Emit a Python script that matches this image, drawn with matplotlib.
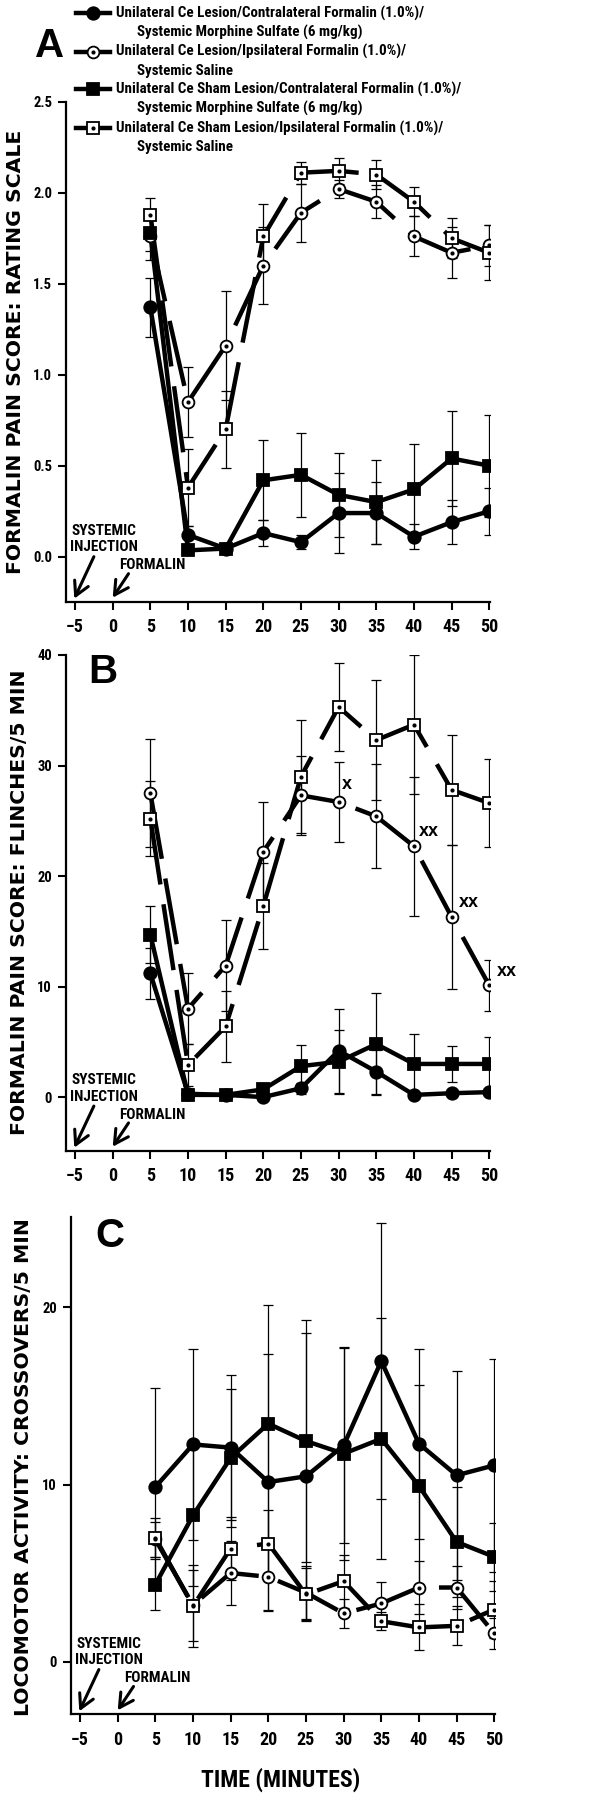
import matplotlib
matplotlib.use("Agg")
import matplotlib.pyplot as plt
from matplotlib import font_manager
from matplotlib.lines import Line2D
from matplotlib.patches import FancyArrowPatch
from matplotlib.ticker import FormatStrFormatter

time = [5, 10, 15, 20, 25, 30, 35, 40, 45, 50]
xticks = [-5, 0, 5, 10, 15, 20, 25, 30, 35, 40, 45, 50]

legend_first = [
    "Unilateral Ce Lesion/Contralateral Formalin (1.0%)/",
    "Unilateral Ce Lesion/Ipsilateral Formalin (1.0%)/",
    "Unilateral Ce Sham Lesion/Contralateral Formalin (1.0%)/",
    "Unilateral Ce Sham Lesion/Ipsilateral Formalin (1.0%)/",
]
legend_second = [
    "Systemic Morphine Sulfate (6 mg/kg)",
    "Systemic Saline",
    "Systemic Morphine Sulfate (6 mg/kg)",
    "Systemic Saline",
]

# panel A: rating scale
a_lesion_contra = [1.37, 0.12, 0.045, 0.13, 0.08, 0.24, 0.24, 0.11, 0.19, 0.25]
a_lesion_contra_err = [0.16, 0.05, 0.02, 0.07, 0.04, 0.22, 0.17, 0.07, 0.12, 0.13]
a_lesion_ipsi = [1.76, 0.85, 1.16, 1.60, 1.89, 2.02, 1.95, 1.76, 1.67, 1.71]
a_lesion_ipsi_err = [0.13, 0.19, 0.30, 0.21, 0.16, 0.05, 0.09, 0.11, 0.14, 0.11]
a_sham_contra = [1.78, 0.035, 0.045, 0.42, 0.45, 0.34, 0.30, 0.37, 0.54, 0.50]
a_sham_contra_err = [0.10, 0.02, 0.02, 0.22, 0.23, 0.23, 0.23, 0.25, 0.26, 0.28]
a_sham_ipsi = [1.88, 0.38, 0.70, 1.76, 2.11, 2.12, 2.10, 1.95, 1.75, 1.67]
a_sham_ipsi_err = [0.09, 0.21, 0.21, 0.18, 0.06, 0.07, 0.08, 0.08, 0.11, 0.15]

# panel B: flinches / 5 min
b_lesion_contra = [11.2, 0.3, 0.2, 0.0, 0.8, 4.2, 2.3, 0.2, 0.35, 0.45]
b_lesion_contra_err = [2.3, 0.3, 0.2, 0.2, 0.5, 3.8, 2.0, 0.2, 0.3, 0.3]
b_lesion_ipsi = [27.5, 8.0, 11.9, 22.2, 27.3, 26.7, 25.4, 22.7, 16.3, 10.1]
b_lesion_ipsi_err = [4.9, 3.2, 4.1, 4.5, 3.6, 3.6, 4.7, 6.3, 6.5, 2.3]
b_sham_contra = [14.7, 0.2, 0.2, 0.7, 2.8, 3.2, 4.8, 3.0, 3.0, 3.0]
b_sham_contra_err = [2.6, 0.2, 0.2, 0.4, 1.9, 2.9, 4.6, 2.7, 1.6, 2.4]
b_sham_ipsi = [25.2, 2.9, 6.4, 17.3, 29.0, 35.3, 32.3, 33.7, 27.8, 26.6]
b_sham_ipsi_err = [3.4, 1.9, 3.2, 3.9, 5.1, 4.0, 5.4, 6.3, 5.0, 4.0]

# panel C: crossovers / 5 min
c_lesion_contra = [9.86, 12.26, 12.08, 10.14, 10.46, 12.2, 16.96, 12.3, 10.52, 11.08]
c_lesion_contra_err = [5.6, 5.4, 4.1, 7.2, 8.1, 5.5, 7.8, 5.35, 5.9, 6.0]
c_lesion_ipsi = [6.9, 3.2, 5.01, 4.79, 3.9, 2.73, 3.29, 4.19, 4.19, 1.6]
c_lesion_ipsi_err = [1.0, 2.0, 1.8, 1.9, 1.5, 0.8, 1.2, 1.5, 1.2, 0.85]
c_sham_contra = [4.36, 8.26, 11.5, 13.43, 12.45, 11.74, 12.58, 9.92, 6.76, 5.92]
c_sham_contra_err = [1.45, 4.0, 3.9, 6.7, 6.8, 6.0, 6.8, 5.7, 3.1, 1.9]
c_sham_ipsi = [6.99, 3.14, 6.39, 6.67, 3.8, 4.55, 2.29, 1.94, 2.03, 2.95]
c_sham_ipsi_err = [1.1, 2.3, 1.8, 1.9, 1.5, 1.5, 0.5, 1.3, 1.1, 1.6]

# pick a condensed bold face, like the Helvetica Condensed of the original
installed = {f.name for f in font_manager.fontManager.ttflist}
narrow_choices = ["Arial Narrow", "Liberation Sans Narrow", "Roboto Condensed",
                  "PT Sans Narrow", "Archivo Narrow", "Fira Sans Condensed",
                  "IBM Plex Sans Condensed", "Pragati Narrow", "Liberation Sans"]
narrow_name = next(n for n in narrow_choices if n in installed)
NARROW = [narrow_name, "DejaVu Sans"]
WIDE = ["DejaVu Sans"]
HELV = ["Liberation Sans", "DejaVu Sans"]

styles = [
    dict(marker="o", ms=9, mfc="black", hollow=False),
    dict(marker="o", ms=8.5, mfc="white", hollow=True),
    dict(marker="s", ms=8.5, mfc="black", hollow=False),
    dict(marker="s", ms=8, mfc="white", hollow=True),
]

W, H = 615, 1800
fig = plt.figure(figsize=(6.15, 18), dpi=100)


def add_axes(left, top, right, bottom):
    return fig.add_axes([left / W, 1 - bottom / H, (right - left) / W, (bottom - top) / H])


def draw_series(ax, series):
    for (y, e), st in zip(series, styles):
        ax.errorbar(time, y, yerr=e, fmt="none", ecolor="black", elinewidth=0.9,
                    capsize=3.5, capthick=0.9, zorder=1)
    for (y, e), st in zip(series, styles):
        line, = ax.plot(time, y, color="black", lw=3.2, zorder=2, solid_capstyle="butt")
        if st["hollow"]:
            line.set_dashes([15, 4.5])
    for (y, e), st in zip(series, styles):
        ax.plot(time, y, ls="none", marker=st["marker"], ms=st["ms"], mfc=st["mfc"],
                mec="black", mew=1.3, zorder=3)
        if st["hollow"]:
            ax.plot(time, y, ls="none", marker="o", ms=2, color="black", zorder=4)


def style_axes(ax, ylim, yticks, fmt):
    ax.set_xlim(-6.2, 50.15)
    ax.set_ylim(*ylim)
    ax.set_xticks(xticks)
    ax.set_yticks(yticks)
    ax.yaxis.set_major_formatter(FormatStrFormatter(fmt))
    ax.spines[["top", "right"]].set_visible(False)
    for s in ["left", "bottom"]:
        ax.spines[s].set_linewidth(1.6)
    ax.tick_params(direction="out", length=6, width=1.5)
    ax.tick_params(axis="x", pad=6)
    ax.tick_params(axis="y", pad=4)
    for lbl in ax.get_xticklabels():
        lbl.set_fontfamily(NARROW)
        lbl.set_fontweight("bold")
        lbl.set_fontsize(13)
    for lbl in ax.get_yticklabels():
        lbl.set_fontfamily(NARROW)
        lbl.set_fontweight("bold")
        lbl.set_fontsize(10.5)

    tr = ax.get_xaxis_transform()
    kw = dict(transform=tr, ha="left", va="center", fontsize=11,
              fontweight="bold", family=NARROW)
    ax.text(-5.5, 0.142, "SYSTEMIC", **kw)
    ax.text(-5.7, 0.109, "INJECTION", **kw)
    ax.text(0.8, 0.073, "FORMALIN", **kw)
    arrow_kw = dict(transform=tr, arrowstyle="->,head_length=0.55,head_width=0.3",
                    lw=2.2, color="black", shrinkA=0, shrinkB=0, mutation_scale=18,
                    clip_on=False)
    ax.add_patch(FancyArrowPatch((-2.5, 0.09), (-5.1, 0.006), **arrow_kw))
    ax.add_patch(FancyArrowPatch((2.1, 0.056), (0.0, 0.008), **arrow_kw))


axA = add_axes(66, 101.7, 490.4, 601.7)
draw_series(axA, [(a_lesion_contra, a_lesion_contra_err), (a_lesion_ipsi, a_lesion_ipsi_err),
                  (a_sham_contra, a_sham_contra_err), (a_sham_ipsi, a_sham_ipsi_err)])
style_axes(axA, (-0.247, 2.5), [0.0, 0.5, 1.0, 1.5, 2.0, 2.5], "%.1f")

axB = add_axes(66, 655, 490.4, 1150.7)
draw_series(axB, [(b_lesion_contra, b_lesion_contra_err), (b_lesion_ipsi, b_lesion_ipsi_err),
                  (b_sham_contra, b_sham_contra_err), (b_sham_ipsi, b_sham_ipsi_err)])
style_axes(axB, (-4.85, 40), [0, 10, 20, 30, 40], "%d")
sig_labels = ["x", "xx", "xx", "xx"]
sig_x = [31.1, 42.0, 47.3, 52.3]
sig_y = [28.25, 24.0, 17.6, 11.4]
for t, sx, sy in zip(sig_labels, sig_x, sig_y):
    axB.text(sx, sy, t, ha="center", va="center", fontsize=13, fontweight="bold",
             family=HELV, clip_on=False)

axC = add_axes(71, 1217.3, 495.4, 1714.3)
draw_series(axC, [(c_lesion_contra, c_lesion_contra_err), (c_lesion_ipsi, c_lesion_ipsi_err),
                  (c_sham_contra, c_sham_contra_err), (c_sham_ipsi, c_sham_ipsi_err)])
style_axes(axC, (-2.96, 25.07), [0, 10, 20], "%d")

# y labels
ylab_kw = dict(rotation=90, ha="center", va="center", fontsize=14.7, fontweight="bold", family=WIDE)
fig.text(16 / W, 1 - 351.5 / H, "FORMALIN PAIN SCORE: RATING SCALE", **ylab_kw)
fig.text(20 / W, 1 - 902.5 / H, "FORMALIN PAIN SCORE: FLINCHES/5 MIN", **ylab_kw)
fig.text(24 / W, 1 - 1467 / H, "LOCOMOTOR ACTIVITY: CROSSOVERS/5 MIN", **ylab_kw)
fig.text(280.5 / W, 1 - 1780 / H, "TIME (MINUTES)", ha="center", va="center",
         fontsize=17, fontweight="bold", family=NARROW)

# panel letters
letter_kw = dict(ha="center", va="center", fontsize=29, fontweight="bold", family=HELV)
fig.text(50 / W, 1 - 46 / H, "A", **letter_kw)
fig.text(103 / W, 1 - 672 / H, "B", **letter_kw)
fig.text(110 / W, 1 - 1236 / H, "C", **letter_kw)

# legend
leg_rows = [13.3, 51.7, 89.3, 128]
for i, st in enumerate(styles):
    yy = 1 - leg_rows[i] / H
    fig.add_artist(Line2D([76 / W, 110 / W], [yy, yy], color="black", lw=3.2))
    fig.add_artist(Line2D([93 / W], [yy], ls="none", marker=st["marker"], ms=st["ms"],
                          mfc=st["mfc"], mec="black", mew=1.3))
    if st["hollow"]:
        fig.add_artist(Line2D([93 / W], [yy], ls="none", marker="o", ms=2, color="black"))
    fig.text(116 / W, yy, legend_first[i], ha="left", va="center", fontsize=10.8,
             fontweight="bold", family=NARROW)
    fig.text(137 / W, 1 - (leg_rows[i] + 19.5) / H, legend_second[i], ha="left",
             va="center", fontsize=10.8, fontweight="bold", family=NARROW)

fig.savefig("out.png", dpi=100)
